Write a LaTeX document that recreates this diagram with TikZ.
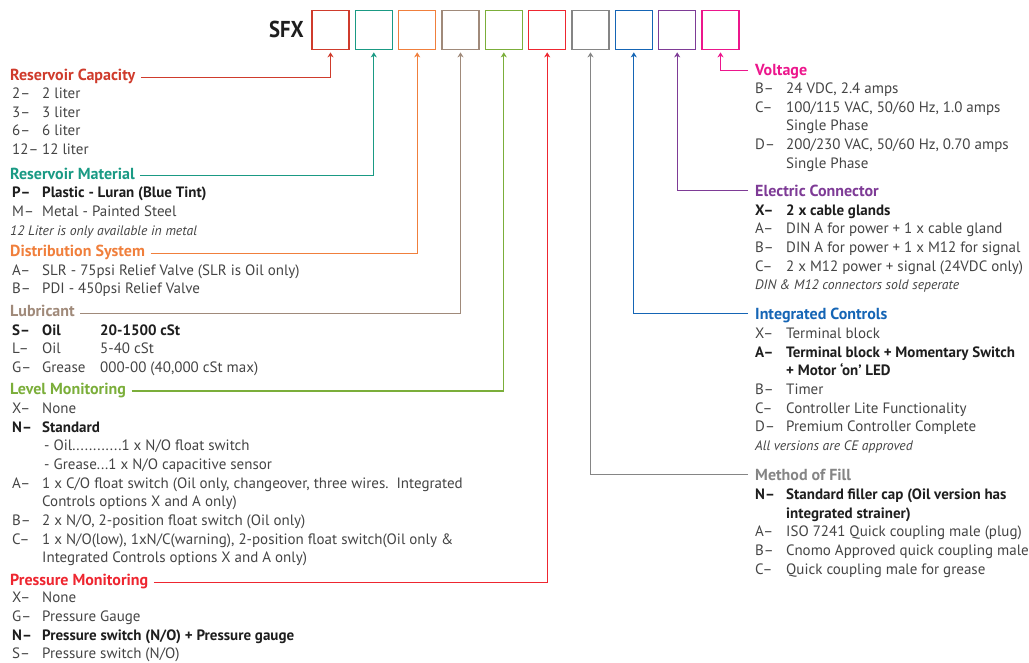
\documentclass[tikz,border=0pt]{standalone}
\usepackage{fontspec}
\setmainfont{PT Sans}
\newfontfamily\sfxfont{PT Sans}[FakeStretch=0.9]
\usetikzlibrary{arrows.meta}

\definecolor{rcap}{HTML}{CF3B2C}
\definecolor{rmat}{HTML}{1A9A84}
\definecolor{dsys}{HTML}{F07F3C}
\definecolor{lubr}{HTML}{A08A7A}
\definecolor{lmon}{HTML}{7BAE3A}
\definecolor{pmon}{HTML}{EE2630}
\definecolor{mfil}{HTML}{858585}
\definecolor{ictl}{HTML}{1565B5}
\definecolor{econ}{HTML}{7E3B96}
\definecolor{volt}{HTML}{EC168C}
\definecolor{txt}{HTML}{444444}
\definecolor{txtb}{HTML}{1E1E1E}

\newcommand\bopt[1]{\textcolor{txtb}{\bfseries #1}}
\newcommand\notefont{\fontsize{13.7}{15}\selectfont\itshape}

\tikzset{
  hdg/.style={text=#1, font=\fontsize{16}{19}\selectfont\bfseries, inner sep=0, anchor=base west},
  optlist/.style={text=txt, font=\fontsize{15}{18.7}\selectfont, inner sep=0, anchor=base west},
  feed/.style={draw=#1, line width=1.2pt, -{Stealth[length=5pt,width=6pt,inset=1.5pt]}, shorten >=2pt}
}

\begin{document}
\begin{tikzpicture}[x=1pt,y=-1pt]
\useasboundingbox (0,0) rectangle (1029,662);

\node[anchor=base east, inner sep=0, text=txtb, font=\sfxfont\fontsize{23}{26}\selectfont\bfseries] (sfx) at (304,37.7) {SFX};

\begin{scope}[every node/.style={draw,line width=1.1pt,minimum width=37pt,minimum height=39pt,inner sep=0}]
  \node[draw=rcap] (b1)  at (330.5,30.3) {};
  \node[draw=rmat] (b2)  at (373.8,30.3) {};
  \node[draw=dsys] (b3)  at (417.2,30.3) {};
  \node[draw=lubr] (b4)  at (460.5,30.3) {};
  \node[draw=lmon] (b5)  at (503.8,30.3) {};
  \node[draw=pmon] (b6)  at (547.2,30.3) {};
  \node[draw=mfil] (b7)  at (590.5,30.3) {};
  \node[draw=ictl] (b8)  at (633.8,30.3) {};
  \node[draw=econ] (b9)  at (677.2,30.3) {};
  \node[draw=volt] (b10) at (720.5,30.3) {};
\end{scope}

% left column
\node[hdg=rcap] (hrc) at (10,80.7) {Reservoir Capacity};
\node[optlist] (lrc) at (12,98.5) {\begin{tabular}[t]{@{}p{30pt}@{}l@{}}
2-- & 2 liter\\
3-- & 3 liter\\
6-- & 6 liter\\
12--& 12 liter
\end{tabular}};

\node[hdg=rmat] (hrm) at (10,179) {Reservoir Material};
\node[optlist] (lrm) at (12,197.7) {\begin{tabular}[t]{@{}p{30pt}@{}l@{}}
\bopt{P--} & \bopt{Plastic - Luran (Blue Tint)}\\
M-- & Metal - Painted Steel\\
\multicolumn{2}{@{}l@{}}{\hspace{-2pt}\notefont 12 Liter is only available in metal}
\end{tabular}};

\node[hdg=dsys] (hds) at (10,256.7) {Distribution System};
\node[optlist] (lds) at (12,275) {\begin{tabular}[t]{@{}p{30pt}@{}l@{}}
A-- & SLR - 75psi Relief Valve (SLR is Oil only)\\
B-- & PDI - 450psi Relief Valve
\end{tabular}};

\node[hdg=lubr] (hlu) at (10,316.7) {Lubricant};
\node[optlist] (llu) at (12,335) {\begin{tabular}[t]{@{}p{30pt}@{}p{58pt}@{}l@{}}
\bopt{S--} & \bopt{Oil} & \bopt{20-1500 cSt}\\
L-- & Oil & 5-40 cSt\\
G-- & Grease & 000-00 (40,000 cSt max)
\end{tabular}};

\node[hdg=lmon] (hlm) at (10,394.5) {Level Monitoring};
\node[optlist] (llm) at (12,413.3) {\begin{tabular}[t]{@{}p{30pt}@{}l@{}}
X-- & None\\
\bopt{N--} & \bopt{Standard}\\
 & \hspace{2pt}- Oil............1 x N/O float switch\\
 & \hspace{2pt}- Grease...1 x N/O capacitive sensor\\
A-- & 1 x C/O float switch (Oil only, changeover, three wires.\ \ Integrated\\
 & Controls options X and A only)\\
B-- & 2 x N/O, 2-position float switch (Oil only)\\
C-- & 1 x N/O(low), 1xN/C(warning), 2-position float switch(Oil only \&\\
 & Integrated Controls options X and A only)
\end{tabular}};

\node[hdg=pmon] (hpm) at (10,585.7) {Pressure Monitoring};
\node[optlist] (lpm) at (12,602.7) {\begin{tabular}[t]{@{}p{30pt}@{}l@{}}
X-- & None\\
G-- & Pressure Gauge\\
\bopt{N--} & \bopt{Pressure switch (N/O) + Pressure gauge}\\
S-- & Pressure switch (N/O)
\end{tabular}};

% right column
\node[hdg=volt] (hvo) at (755,75.7) {Voltage};
\node[optlist] (lvo) at (755,93.3) {\begin{tabular}[t]{@{}p{31pt}@{}l@{}}
B-- & 24 VDC, 2.4 amps\\
C-- & 100/115 VAC, 50/60 Hz, 1.0 amps\\
 & Single Phase\\
D-- & 200/230 VAC, 50/60 Hz, 0.70 amps\\
 & Single Phase
\end{tabular}};

\node[hdg=econ] (hec) at (755,196) {Electric Connector};
\node[optlist] (lec) at (755,215) {\begin{tabular}[t]{@{}p{31pt}@{}l@{}}
\bopt{X--} & \bopt{2 x cable glands}\\
A-- & DIN A for power + 1 x cable gland\\
B-- & DIN A for power + 1 x M12 for signal\\
C-- & 2 x M12 power + signal (24VDC only)\\
\multicolumn{2}{@{}l@{}}{\notefont DIN \& M12 connectors sold seperate}
\end{tabular}};

\node[hdg=ictl] (hic) at (755,319.3) {Integrated Controls};
\node[optlist] (lic) at (755,338.3) {\begin{tabular}[t]{@{}p{31pt}@{}l@{}}
X-- & Terminal block\\
\bopt{A--} & \bopt{Terminal block + Momentary Switch}\\
 & \bopt{+ Motor `on' LED}\\
B-- & Timer\\
C-- & Controller Lite Functionality\\
D-- & Premium Controller Complete\\
\multicolumn{2}{@{}l@{}}{\notefont All versions are CE approved}
\end{tabular}};

\node[hdg=mfil] (hmf) at (755,480) {Method of Fill};
\node[optlist] (lmf) at (755,499.5) {\begin{tabular}[t]{@{}p{31pt}@{}l@{}}
\bopt{N--} & \bopt{Standard filler cap (Oil version has}\\
 & \bopt{integrated strainer)}\\
A-- & ISO 7241 Quick coupling male (plug)\\
B-- & Cnomo Approved quick coupling male\\
C-- & Quick coupling male for grease
\end{tabular}};

% leaders
\draw[feed=rcap] ([xshift=5.5pt,yshift=3.5pt]hrc.base east) -| (b1.south);
\draw[feed=rmat] ([xshift=5.5pt,yshift=3.5pt]hrm.base east) -| (b2.south);
\draw[feed=dsys] ([xshift=5.5pt,yshift=3.5pt]hds.base east) -| (b3.south);
\draw[feed=lubr] ([xshift=5.5pt,yshift=3.5pt]hlu.base east) -| (b4.south);
\draw[feed=lmon] ([xshift=5.5pt,yshift=3.5pt]hlm.base east) -| (b5.south);
\draw[feed=pmon] ([xshift=5.5pt,yshift=3.5pt]hpm.base east) -| (b6.south);
\draw[feed=mfil] ([xshift=-7pt,yshift=5.5pt]hmf.base west) -| (b7.south);
\draw[feed=ictl] ([xshift=-7pt,yshift=5.5pt]hic.base west) -| (b8.south);
\draw[feed=econ] ([xshift=-7pt,yshift=5.5pt]hec.base west) -| (b9.south);
\draw[feed=volt] ([xshift=-7pt,yshift=5.5pt]hvo.base west) -| (b10.south);

\end{tikzpicture}
\end{document}
